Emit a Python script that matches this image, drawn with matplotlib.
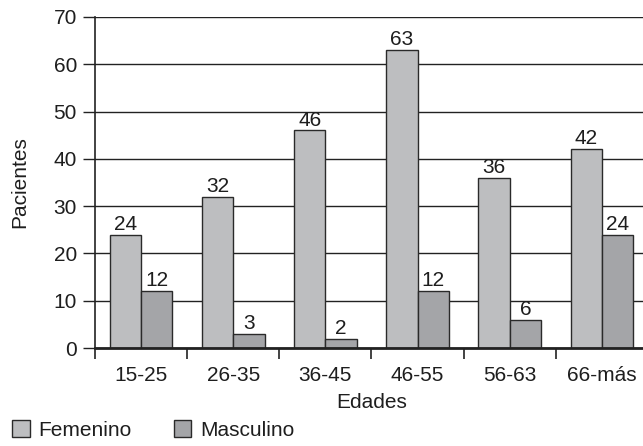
import matplotlib
matplotlib.use("Agg")
import matplotlib.pyplot as plt
import numpy as np
from matplotlib.patches import Patch

plt.rcParams['font.family'] = ['Liberation Sans', 'DejaVu Sans']

categories = ["15-25", "26-35", "36-45", "46-55", "56-63", "66-más"]
femenino = [24, 32, 46, 63, 36, 42]
masculino = [12, 3, 2, 12, 6, 24]

col_f = "#bdbec0"
col_m = "#a4a5a8"
edge = "#2a2a2a"
txt = "#1e1e1e"
fs = 15

fig = plt.figure(figsize=(6.43, 4.46), dpi=100)
ax = fig.add_axes([95/643, 1-348/446, 553/643, (348-17)/446])

x = np.arange(len(categories))
w = 0.34
bf = ax.bar(x - w/2, femenino, w, color=col_f, edgecolor=edge, linewidth=1.0, zorder=3)
bm = ax.bar(x + w/2, masculino, w, color=col_m, edgecolor=edge, linewidth=1.0, zorder=3)

for rect, v in zip(list(bf) + list(bm), femenino + masculino):
    ax.text(rect.get_x() + rect.get_width()/2, v + 0.2, str(v),
            ha="center", va="bottom", fontsize=fs, color=txt, zorder=4)

ax.set_xlim(-0.5, len(categories) - 0.5)
ax.set_ylim(0, 70)
ax.set_yticks(range(0, 71, 10))
ax.yaxis.grid(True, color="#222222", linewidth=1.0, zorder=0)
ax.set_axisbelow(True)

ax.set_xticks(x)
ax.set_xticklabels(categories)
ax.set_xticks(np.arange(-0.5, len(categories), 1.0), minor=True)
ax.tick_params(axis="x", which="major", length=0, pad=13, labelsize=fs, colors=txt)
ax.tick_params(axis="x", which="minor", length=8, width=1.2, color="#222222", direction="out")
ax.tick_params(axis="y", length=9, width=1.0, color="#222222", labelsize=fs, pad=4, labelcolor=txt)

for s in ["top", "right"]:
    ax.spines[s].set_visible(False)
ax.spines["left"].set_color("#222222")
ax.spines["left"].set_linewidth(1.2)
ax.spines["bottom"].set_color("#222222")
ax.spines["bottom"].set_linewidth(2.0)
ax.spines["bottom"].set_zorder(5)

ax.set_xlabel("Edades", fontsize=fs, color=txt, labelpad=6)
ax.set_ylabel("Pacientes", fontsize=fs, color=txt)
ax.yaxis.set_label_coords(-66/553, 0.5)

handles = [Patch(facecolor=col_f, edgecolor=edge, linewidth=1.0, label="Femenino"),
           Patch(facecolor=col_m, edgecolor=edge, linewidth=1.0, label="Masculino")]
fig.legend(handles=handles, loc="lower left", bbox_to_anchor=(12/643, 6/446), ncol=2,
           frameon=False, fontsize=fs, handlelength=0.85, handleheight=0.85,
           handletextpad=0.43, columnspacing=2.0, borderpad=0, borderaxespad=0,
           labelcolor=txt)

fig.savefig("out.png", dpi=100)
